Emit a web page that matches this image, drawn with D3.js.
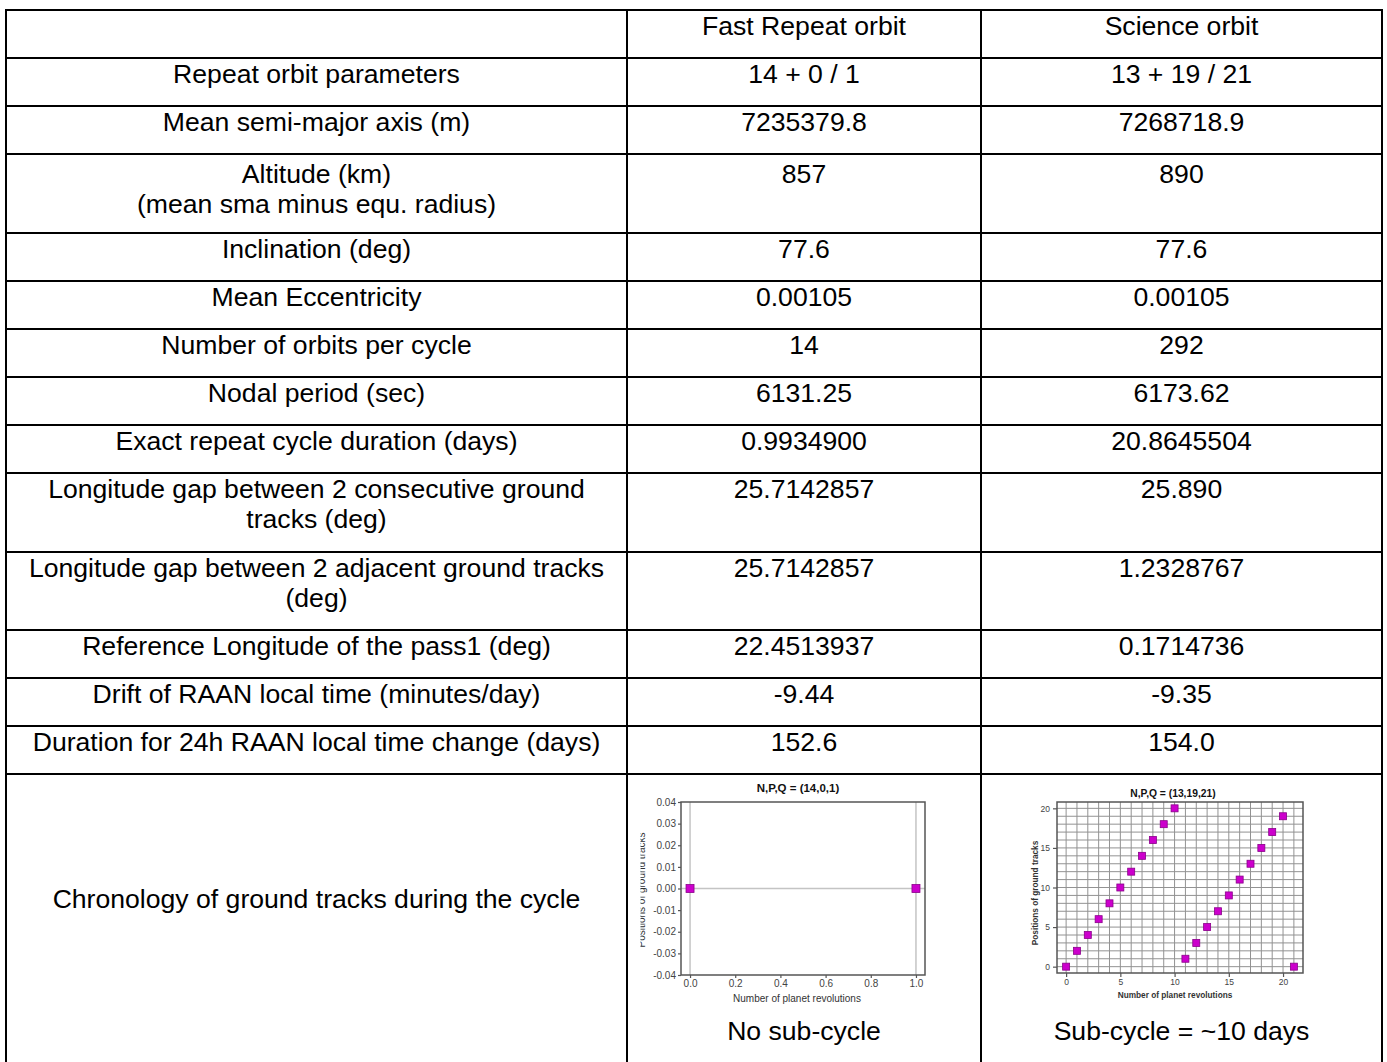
<!DOCTYPE html>
<html><head><meta charset="utf-8">
<script src="https://cdn.jsdelivr.net/npm/d3@7"></script>
<style>body{margin:0;background:#fff}svg{display:block}</style>
</head><body>
<script>
// ---------------- DATA ----------------
const headers = ["", "Fast Repeat orbit", "Science orbit"];
const parameterNames = [
  "Repeat orbit parameters",
  "Mean semi-major axis (m)",
  "Altitude (km)\n(mean sma minus equ. radius)",
  "Inclination (deg)",
  "Mean Eccentricity",
  "Number of orbits per cycle",
  "Nodal period (sec)",
  "Exact repeat cycle duration (days)",
  "Longitude gap between 2 consecutive ground\ntracks (deg)",
  "Longitude gap between 2 adjacent ground tracks\n(deg)",
  "Reference Longitude of the pass1 (deg)",
  "Drift of RAAN local time (minutes/day)",
  "Duration for 24h RAAN local time change (days)",
  "Chronology of ground tracks during the cycle"
];
const fastRepeatValues = ["14 + 0 / 1", "7235379.8", "857", "77.6", "0.00105", "14", "6131.25",
  "0.9934900", "25.7142857", "25.7142857", "22.4513937", "-9.44", "152.6", ""];
const scienceValues = ["13 + 19 / 21", "7268718.9", "890", "77.6", "0.00105", "292", "6173.62",
  "20.8645504", "25.890", "1.2328767", "0.1714736", "-9.35", "154.0", ""];
const captions = ["No sub-cycle", "Sub-cycle = ~10 days"];

// chart (14,0,1)
const fastTitle = "N,P,Q = (14,0,1)";
const fastRevolutions = [0, 1];
const fastPositions = [0, 0];
const fastXTicks = [0, 0.2, 0.4, 0.6, 0.8, 1.0];
const fastYTicks = [-0.04, -0.03, -0.02, -0.01, 0, 0.01, 0.02, 0.03, 0.04];

// chart (13,19,21)
const sciTitle = "N,P,Q = (13,19,21)";
const sciRevolutions = [0,1,2,3,4,5,6,7,8,9,10,11,12,13,14,15,16,17,18,19,20,21];
const sciPositions   = [0,2,4,6,8,10,12,14,16,18,20,1,3,5,7,9,11,13,15,17,19,0];
const sciXTicks = [0, 5, 10, 15, 20];
const sciYTicks = [0, 5, 10, 15, 20];

const xAxisTitle = "Number of planet revolutions";
const yAxisTitle = "Positions of ground tracks";

// ---------------- LAYOUT ----------------
const W = 1387, H = 1062;
const FONT = "'Liberation Sans', Arial, sans-serif";
const FS = 26.6;
const colX = [6, 627, 981, 1382];
const rowY = [10, 58, 106, 154, 233, 281, 329, 377, 425, 473, 552, 630, 678, 726, 774, 1080];

const svg = d3.select("body").append("svg").attr("width", W).attr("height", H)
  .style("font-family", FONT);

// table text
const rows = [headers].concat(parameterNames.map((n, i) => [n, fastRepeatValues[i], scienceValues[i]]));
const tg = svg.append("g").attr("fill", "#000").attr("font-size", FS).attr("text-anchor", "middle");
rows.forEach((r, ri) => {
  r.forEach((txt, ci) => {
    if (!txt) return;
    const cx = (colX[ci] + colX[ci + 1]) / 2;
    let base = rowY[ri] + 24.5;
    if (ri === 3) base = rowY[ri] + 28.5;
    if (ri === 14) base = 908;
    const t = tg.append("text").attr("x", cx).attr("y", base);
    txt.split("\n").forEach((line, li) => {
      t.append("tspan").attr("x", cx).attr("y", base + li * 30).text(line);
    });
  });
});
captions.forEach((c, i) => {
  tg.append("text").attr("x", (colX[i + 1] + colX[i + 2]) / 2).attr("y", 1040).text(c);
});

// table lines
const lg = svg.append("g").attr("stroke", "#000").attr("stroke-width", 2);
rowY.forEach(y => lg.append("line").attr("x1", colX[0] - 1).attr("x2", colX[3] + 1).attr("y1", y).attr("y2", y));
colX.forEach(x => lg.append("line").attr("x1", x).attr("x2", x).attr("y1", rowY[0] - 1).attr("y2", H + 10));

// ---------------- CHARTS ----------------
function drawChart(cfg) {
  const g = svg.append("g");
  const x = d3.scaleLinear().domain(cfg.xDomain).range(cfg.xRange);
  const y = d3.scaleLinear().domain(cfg.yDomain).range(cfg.yRange);
  // grid at integer values
  const gx = d3.range(Math.ceil(cfg.xDomain[0]), Math.floor(cfg.xDomain[1]) + 1);
  const gy = d3.range(Math.ceil(cfg.yDomain[0]), Math.floor(cfg.yDomain[1]) + 1);
  const grid = g.append("g").attr("stroke", cfg.gridColor).attr("stroke-width", cfg.gridWidth);
  gx.forEach(v => grid.append("line").attr("x1", x(v)).attr("x2", x(v)).attr("y1", cfg.yRange[1]).attr("y2", cfg.yRange[0]));
  gy.forEach(v => grid.append("line").attr("y1", y(v)).attr("y2", y(v)).attr("x1", cfg.xRange[0]).attr("x2", cfg.xRange[1]));

  const ax = g.append("g").attr("transform", `translate(0,${cfg.yRange[0]})`)
    .call(d3.axisBottom(x).tickValues(cfg.xTicks).tickFormat(cfg.xFmt).tickSize(cfg.tick).tickPadding(cfg.xPad).tickSizeOuter(0));
  const ay = g.append("g").attr("transform", `translate(${cfg.xRange[0]},0)`)
    .call(d3.axisLeft(y).tickValues(cfg.yTicks).tickFormat(cfg.yFmt).tickSize(cfg.tick).tickPadding(cfg.yPad).tickSizeOuter(0));
  [ax, ay].forEach(a => {
    a.select(".domain").remove();
    a.selectAll("line").attr("stroke", "#555").attr("stroke-width", 1.2);
    a.selectAll("text").attr("font-family", FONT).attr("font-size", cfg.tickFS).attr("fill", "#444");
  });
  g.append("rect").attr("x", cfg.xRange[0]).attr("y", cfg.yRange[1])
    .attr("width", cfg.xRange[1] - cfg.xRange[0]).attr("height", cfg.yRange[0] - cfg.yRange[1])
    .attr("fill", "none").attr("stroke", "#555").attr("stroke-width", 1.5);

  g.selectAll("rect.pt").data(cfg.xs).enter().append("rect").attr("class", "pt")
    .attr("x", (d) => x(d) - cfg.ps / 2).attr("y", (d, i) => y(cfg.ys[i]) - cfg.ps / 2)
    .attr("width", cfg.ps).attr("height", cfg.ps)
    .attr("fill", "#cc00cc").attr("stroke", "#8a008a").attr("stroke-width", 0.8);

  g.append("text").attr("x", cfg.titleX).attr("y", cfg.titleY).attr("text-anchor", "middle")
    .attr("font-weight", "bold").attr("font-size", cfg.titleFS).attr("fill", "#111").text(cfg.title);
  g.append("text").attr("x", cfg.xtX).attr("y", cfg.xtY).attr("text-anchor", "middle")
    .attr("font-weight", cfg.axisBold ? "bold" : "normal").attr("font-size", cfg.axisFS).attr("fill", "#333").text(xAxisTitle);
  let holder = g;
  if (cfg.clipX) {
    const id = "clip" + Math.round(cfg.clipX);
    svg.append("clipPath").attr("id", id).append("rect").attr("x", cfg.clipX).attr("y", 770).attr("width", 400).attr("height", 300);
    holder = g.append("g").attr("clip-path", `url(#${id})`);
  }
  holder.append("text").attr("transform", `translate(${cfg.ytX},${cfg.ytY}) rotate(-90)`).attr("text-anchor", "middle")
    .attr("font-weight", cfg.axisBold ? "bold" : "normal").attr("font-size", cfg.axisFS).attr("fill", "#333").text(yAxisTitle);
}

drawChart({
  xDomain: [-0.04, 1.04], xRange: [681, 925],
  yDomain: [-0.04, 0.04], yRange: [975, 802],
  xTicks: fastXTicks, yTicks: fastYTicks,
  xFmt: d => d.toFixed(1), yFmt: d => d.toFixed(2),
  tick: 3, xPad: 2, yPad: 2, tickFS: 10,
  gridColor: "#c4c4c4", gridWidth: 1.5,
  xs: fastRevolutions, ys: fastPositions, ps: 8,
  title: fastTitle, titleX: 798, titleY: 792, titleFS: 11.5,
  xtX: 797, xtY: 1001.5, ytX: 645, ytY: 890, axisFS: 10, axisBold: false, clipX: 640.5
});

drawChart({
  xDomain: [-0.84, 21.84], xRange: [1057, 1303],
  yDomain: [-0.8, 20.8], yRange: [973, 802],
  xTicks: sciXTicks, yTicks: sciYTicks,
  xFmt: d => String(d), yFmt: d => String(d),
  tick: 4, xPad: 2, yPad: 3, tickFS: 8.5,
  gridColor: "#929292", gridWidth: 1,
  xs: sciRevolutions, ys: sciPositions, ps: 7,
  title: sciTitle, titleX: 1173, titleY: 796.5, titleFS: 10.3,
  xtX: 1175, xtY: 998, ytX: 1038, ytY: 893, axisFS: 8.25, axisBold: true, clipX: 0
});
</script>
</body></html>
